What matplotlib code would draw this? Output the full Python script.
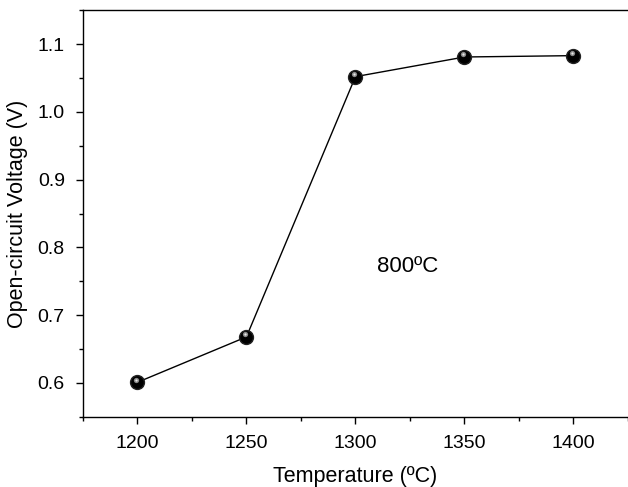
import matplotlib
matplotlib.use('Agg')
import matplotlib.pyplot as plt
from matplotlib.transforms import offset_copy
from matplotlib.ticker import MultipleLocator, FormatStrFormatter

# --- Data ---
temperature = [1200, 1250, 1300, 1350, 1400]
voltage = [0.601, 0.668, 1.052, 1.081, 1.083]
annotation = '800ºC'

plt.rcParams['font.family'] = ['Liberation Sans', 'DejaVu Sans']

fig = plt.figure(figsize=(6.28, 4.87), dpi=100)
ax = fig.add_axes([0.132, 0.144, 0.868, 0.835])

ax.plot(temperature, voltage, color='black', linewidth=1.0, zorder=2)
ax.plot(temperature, voltage, linestyle='none', marker='o', markersize=10,
        markerfacecolor='black', markeredgecolor='#222222', zorder=3)
# small highlight to give the spheres a shine
hl = offset_copy(ax.transData, fig=fig, x=-1.2, y=1.8, units='points')
ax.plot(temperature, voltage, linestyle='none', marker='o', markersize=3.8,
        markerfacecolor='#8a8a8a', markeredgecolor='none', transform=hl, zorder=4)
ax.plot(temperature, voltage, linestyle='none', marker='o', markersize=1.6,
        markerfacecolor='#e8e8e8', markeredgecolor='none', transform=hl, zorder=5)

ax.text(1324, 0.772, annotation, fontsize=16, ha='center', va='center')

ax.set_xlim(1175, 1425)
ax.set_ylim(0.55, 1.15)
ax.xaxis.set_major_locator(MultipleLocator(50))
ax.xaxis.set_minor_locator(MultipleLocator(25))
ax.yaxis.set_major_locator(MultipleLocator(0.1))
ax.yaxis.set_minor_locator(MultipleLocator(0.05))
ax.yaxis.set_major_formatter(FormatStrFormatter('%.1f'))

ax.spines['right'].set_visible(False)
for s in ['left', 'bottom', 'top']:
    ax.spines[s].set_linewidth(1.0)

ax.tick_params(which='major', direction='out', length=5, width=1.0,
               labelsize=14, pad=8)
ax.tick_params(which='minor', direction='out', length=3, width=1.0)
ax.tick_params(top=False, right=False, which='both')

ax.set_xlabel('Temperature (ºC)', fontsize=15.5, labelpad=10)
ax.set_ylabel('Open-circuit Voltage (V)', fontsize=15.5, labelpad=7)

fig.savefig('out.png', dpi=100)
